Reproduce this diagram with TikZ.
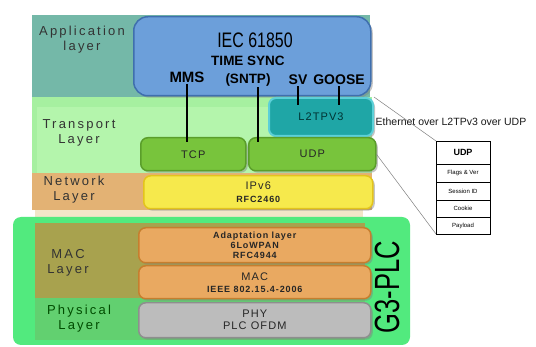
\documentclass[tikz,border=0pt]{standalone}
\usepackage{fontspec}
\setmainfont{Liberation Sans}
\newfontfamily\spaced[LetterSpace=10]{Liberation Sans}
\newfontfamily\widespaced[LetterSpace=17]{Liberation Sans}
\usetikzlibrary{calc,positioning,shadows}

\definecolor{appband}{HTML}{74B8A8}
\definecolor{transband}{HTML}{A6F0A0}
\definecolor{transinner}{HTML}{B4F5AC}
\definecolor{netband}{HTML}{E3B274}
\definecolor{paleband}{HTML}{F2E6C8}
\definecolor{plcgreen}{HTML}{52EA7E}
\definecolor{macband}{HTML}{A8A24E}
\definecolor{phyband}{HTML}{62D070}
\definecolor{iecblue}{HTML}{6C9FDA}
\definecolor{iecedge}{HTML}{3F6FAE}
\definecolor{tpgreen}{HTML}{78C43C}
\definecolor{tpedge}{HTML}{5A9E2A}
\definecolor{l2teal}{HTML}{1FA6A6}
\definecolor{l2edge}{HTML}{5CD0D8}
\definecolor{ipyellow}{HTML}{F6E94C}
\definecolor{ipedge}{HTML}{E3C41C}
\definecolor{macorange}{HTML}{E9A961}
\definecolor{macedge}{HTML}{C67E2E}
\definecolor{phygrey}{HTML}{BCBCBC}
\definecolor{phyedge}{HTML}{8E8E8E}

\tikzset{
  stackbox/.style={draw, rounded corners=7pt, line width=1.5pt, anchor=north west,
    inner sep=0pt, align=center, text=black!85,
    font=\spaced\fontsize{11}{12}\selectfont,
    drop shadow={shadow xshift=2pt, shadow yshift=-2pt, opacity=0.45}},
  layerlabel/.style={align=center, text=black!80, font=\widespaced\fontsize{13}{15}\selectfont},
  proto/.style={font=\bfseries\fontsize{14}{18}\selectfont, align=center, inner sep=1pt},
  link/.style={line width=1.6pt, black},
  guide/.style={gray, line width=0.5pt},
  hdrcell/.style={draw, line width=0.8pt, minimum width=54pt, inner sep=0pt, outer sep=0pt,
    font=\fontsize{6}{7}\selectfont},
}

\begin{document}
\begin{tikzpicture}[x=1pt, y=1pt]
			%%%%% START %%%%%
			\useasboundingbox (0,0) rectangle (536,-347);
			\fill[white] (0,0) rectangle (536,-347);
			
			% layer bands
			\fill[appband] (32,-15) rectangle (370,-97);
			\fill[transband] (32,-97) rectangle (372,-173);
			\fill[transinner] (37,-107) rectangle (372,-173);
			\fill[netband] (32,-173) rectangle (372,-210);
			\fill[paleband] (35,-210) rectangle (363,-218);
			\fill[plcgreen, rounded corners=8pt] (13,-217) rectangle (410,-345);
			\fill[macband] (35,-223) rectangle (365,-298);
			\fill[phyband] (35,-298) rectangle (365,-340);
			
			% layer names
			\node[layerlabel] (applbl) at (82,-40) {Application\\layer};
			\node[layerlabel] (translbl) at (79,-133) {Transport\\Layer};
			\node[layerlabel] (netlbl) at (74,-190) {Network\\Layer};
			\node[layerlabel] (maclbl) at (68,-263) {MAC\\Layer};
			\node[layerlabel, text=green!30!black] (phylbl) at (79,-319) {Physical\\Layer};
			
			% protocol boxes
			\node[stackbox, fill=iecblue, draw=iecedge, rounded corners=14pt,
			      minimum width=237pt, minimum height=79pt] (iec) at (133,-16) {};
			\node[stackbox, fill=l2teal, draw=l2edge, line width=2pt, text=teal!40!black,
			      minimum width=104pt, minimum height=38pt] (l2tp) at (268,-97) {L2TPV3};
			\node[stackbox, fill=tpgreen, draw=tpedge,
			      minimum width=105pt, minimum height=33pt] (tcp) at (140,-137) {TCP};
			\node[stackbox, fill=tpgreen, draw=tpedge,
			      minimum width=127pt, minimum height=33pt] (udp) at (248,-137) {UDP};
			\node[stackbox, fill=ipyellow, draw=ipedge,
			      minimum width=229pt, minimum height=33pt] (ipv6) at (143,-175)
			      {IPv6\\[1pt]{\bfseries\fontsize{9}{10}\selectfont RFC2460}};
			\node[stackbox, fill=macorange, draw=macedge,
			      minimum width=232pt, minimum height=35pt,
			      font=\spaced\bfseries\fontsize{9}{10}\selectfont] (adapt) at (138,-227)
			      {Adaptation layer\\6LoWPAN\\RFC4944};
			\node[stackbox, fill=macorange, draw=macedge,
			      minimum width=232pt, minimum height=33pt] (mac) at (138,-265)
			      {MAC\\{\bfseries\fontsize{9}{10}\selectfont IEEE 802.15.4-2006}};
			\node[stackbox, fill=phygrey, draw=phyedge,
			      minimum width=232pt, minimum height=35pt] (phy) at (138,-302)
			      {PHY\\PLC OFDM};
			
			% IEC 61850 contents
			\node[font=\fontsize{21}{22}\selectfont] (ieclbl) at (255,-40) {\scalebox{0.76}[1]{IEC 61850}};
			\node[proto, font=\bfseries\fontsize{15}{18}\selectfont] (mms) at (187,-77) {MMS};
			\node[proto, font=\bfseries\fontsize{13.5}{18}\selectfont] (sync) at (248,-71) {TIME SYNC\\(SNTP)};
			\node[proto] (sv) at (298,-80) {SV};
			\node[proto] (goose) at (339,-80) {GOOSE};
			
			% service to transport
			\draw[link] (mms.south) -- ($(mms.south |- tcp.north)+(0,-5)$);
			\draw[link] ([xshift=10pt]sync.south) -- ($([xshift=10pt]sync.south |- udp.north)+(0,-5)$);
			\draw[link] (sv.south) -- ($(sv.south |- l2tp.north)+(0,-8)$);
			\draw[link] (goose.south) -- ($(goose.south |- l2tp.north)+(0,-8)$);
			
			% G3-PLC tag
			\node[rotate=90, font=\fontsize{35}{35}\selectfont] (g3) at (387,-287) {\scalebox{0.73}[1]{G3-PLC}};
			
			% L2TPv3 header
			\node[font=\fontsize{10.5}{12}\selectfont, text=black!90] (ethlbl) at (451,-122) {Ethernet over L2TPv3 over UDP};
			\node[hdrcell, minimum height=23pt, anchor=north west,
			      font=\bfseries\fontsize{9}{10}\selectfont] (udphdr) at (436,-141) {UDP};
			\node[hdrcell, minimum height=18pt, below=0pt of udphdr] (flags) {Flags \& Ver};
			\node[hdrcell, minimum height=18pt, below=0pt of flags] (session) {Session ID};
			\node[hdrcell, minimum height=17pt, below=0pt of session] (cookie) {Cookie};
			\node[hdrcell, minimum height=17pt, below=0pt of cookie] (payload) {Payload};
			
			\draw[guide] (l2tp.north east) -- (udphdr.north west);
			\draw[guide] (udp.east) -- (payload.south west);
			%%%%% END %%%%%
\end{tikzpicture}
\end{document}
